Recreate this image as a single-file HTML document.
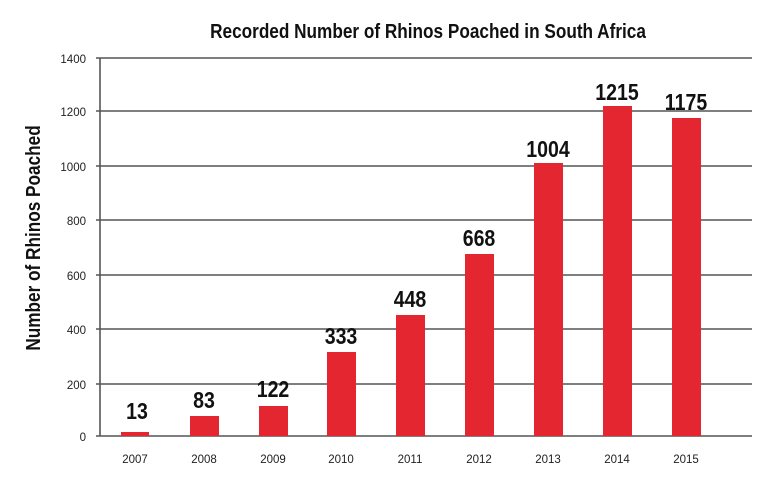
<!DOCTYPE html>
<html><head><meta charset="utf-8"><style>
body{margin:0;background:#fff;}
svg{display:block;}
</style></head><body>
<svg width="774" height="482" viewBox="0 0 774 482" xmlns="http://www.w3.org/2000/svg">
<text transform="translate(428,38) scale(0.86,1)" text-anchor="middle" font-family="'Liberation Sans',sans-serif" font-weight="bold" font-size="20" fill="#111">Recorded Number of Rhinos Poached in South Africa</text>
<text transform="translate(40,238) rotate(-90) scale(0.86,1)" text-anchor="middle" font-family="'Liberation Sans',sans-serif" font-weight="bold" font-size="20" fill="#111">Number of Rhinos Poached</text>
<g stroke="#555" stroke-width="1.6">
<line x1="96" y1="58" x2="752" y2="58"/>
<line x1="96" y1="111" x2="752" y2="111"/>
<line x1="96" y1="166" x2="752" y2="166"/>
<line x1="96" y1="220" x2="752" y2="220"/>
<line x1="96" y1="275" x2="752" y2="275"/>
<line x1="96" y1="329" x2="752" y2="329"/>
<line x1="96" y1="384" x2="752" y2="384"/>
<line x1="96" y1="436" x2="752" y2="436"/>
<line x1="100" y1="58" x2="100" y2="436"/>
</g>
<g font-family="'Liberation Sans',sans-serif" font-size="11.5" fill="#222" text-anchor="end">
<text x="86" y="63">1400</text><text x="86" y="116">1200</text><text x="86" y="171">1000</text>
<text x="86" y="225">800</text><text x="86" y="280">600</text><text x="86" y="334">400</text>
<text x="86" y="389">200</text><text x="86" y="441">0</text>
</g>
<g fill="#e3262f">
<rect x="121" y="432" width="28" height="4"/>
<rect x="190" y="416" width="29" height="20"/>
<rect x="259" y="406" width="29" height="30"/>
<rect x="327" y="352" width="29" height="84"/>
<rect x="396" y="315" width="29" height="121"/>
<rect x="465" y="254" width="29" height="182"/>
<rect x="534" y="163" width="29" height="273"/>
<rect x="603" y="106" width="29" height="330"/>
<rect x="672" y="118" width="29" height="318"/>
</g>
<g font-family="'Liberation Sans',sans-serif" font-weight="bold" font-size="23" fill="#111" text-anchor="middle">
<text transform="translate(137,419) scale(0.85,1)">13</text>
<text transform="translate(204,408) scale(0.85,1)">83</text>
<text transform="translate(273,397) scale(0.85,1)">122</text>
<text transform="translate(341,344) scale(0.85,1)">333</text>
<text transform="translate(410,307) scale(0.85,1)">448</text>
<text transform="translate(479,246) scale(0.85,1)">668</text>
<text transform="translate(548,157) scale(0.85,1)">1004</text>
<text transform="translate(617,100) scale(0.85,1)">1215</text>
<text transform="translate(686,110) scale(0.85,1)">1175</text>
</g>
<g font-family="'Liberation Sans',sans-serif" font-size="11.5" fill="#222" text-anchor="middle">
<text x="135" y="463">2007</text><text x="204" y="463">2008</text><text x="273" y="463">2009</text>
<text x="341" y="463">2010</text><text x="410" y="463">2011</text><text x="479" y="463">2012</text>
<text x="548" y="463">2013</text><text x="617" y="463">2014</text><text x="686" y="463">2015</text>
</g>
</svg>
</body></html>
